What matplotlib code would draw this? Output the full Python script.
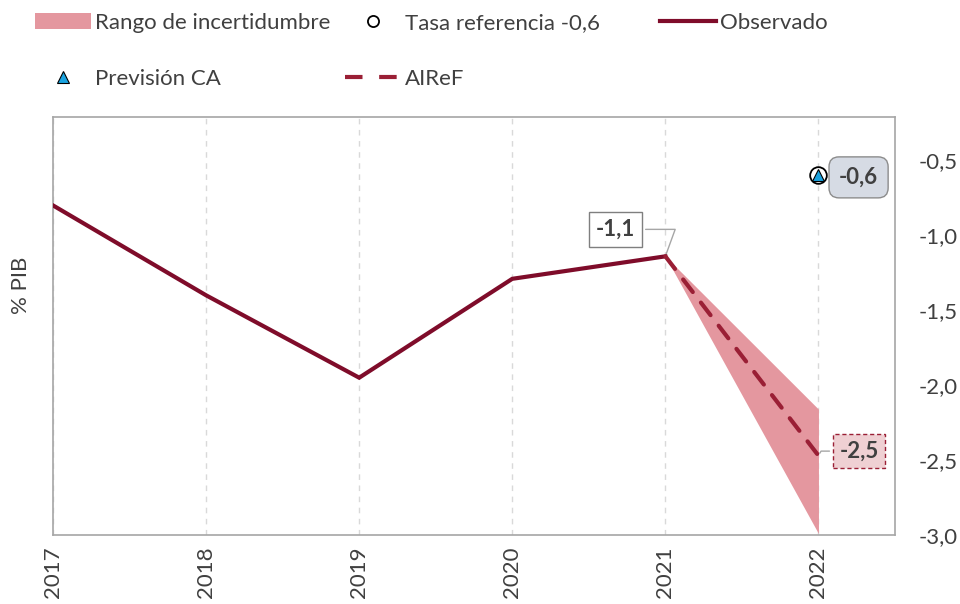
import matplotlib
matplotlib.use("Agg")
import matplotlib.pyplot as plt
from matplotlib.patches import Patch
from matplotlib.lines import Line2D

plt.rcParams['font.family'] = ['Lato', 'DejaVu Sans']

years = [2017, 2018, 2019, 2020, 2021, 2022]
observado_years = [2017, 2018, 2019, 2020, 2021]
observado = [-0.80, -1.40, -1.95, -1.29, -1.14]
airef_years = [2021, 2022]
airef = [-1.14, -2.47]
band_years = [2021, 2022]
band_low = [-1.14, -2.99]
band_high = [-1.14, -2.16]
prevision_ca = -0.6
tasa_ref = -0.6
yticks = [-0.5, -1.0, -1.5, -2.0, -2.5, -3.0]

txt = '#404040'
maroon = '#7f0c2a'
dash_col = '#9a1f35'
pink = '#e4979f'
FS = 16

fig = plt.figure(figsize=(9.6, 6.04), dpi=100)
ax = fig.add_axes([0.0552, 0.1142, 0.8771, 0.6921])

ax.fill_between(band_years, band_low, band_high, color=pink, linewidth=0, zorder=2)
ax.plot(observado_years, observado, color=maroon, lw=3.0, zorder=3, solid_joinstyle='miter')
ax.plot(airef_years, airef, color=dash_col, lw=3.0, dashes=(3.8, 3.2), zorder=4, dash_capstyle='round')
ax.plot([2022], [tasa_ref], 'o', ms=12, mfc='white', mec='black', mew=1.3, zorder=5)
ax.plot([2022], [prevision_ca], '^', ms=8, mfc='#1aa3e0', mec='black', mew=0.8, zorder=6)

ax.set_xlim(2017, 2022.5)
ax.set_ylim(-3.0, -0.21)
ax.set_xticks(years)
ax.set_xticklabels([str(y) for y in years], rotation=90, fontsize=FS, color=txt, va='top')
ax.set_yticks(yticks)
ax.set_yticklabels([f"{v:.1f}".replace('.', ',') for v in yticks], fontsize=FS, color=txt)
ax.yaxis.tick_right()
ax.tick_params(axis='both', length=0, pad=8)
ax.tick_params(axis='y', pad=17)
ax.grid(axis='x', color='#d9d9d9', ls=(0, (4, 4)), lw=1)
ax.set_axisbelow(True)
for s in ax.spines.values():
    s.set_color('#a6a6a6')
    s.set_linewidth(1.2)

fig.text(0.022, 1 - 285/604, '% PIB', rotation=90, ha='center', va='center', fontsize=FS, color=txt)

# annotations
ax.annotate('-1,1', xy=(observado_years[-1], observado[-1]), xytext=(2020.675, -0.96),
            ha='center', va='center', fontsize=FS, fontweight='bold', color=txt,
            bbox=dict(boxstyle='square,pad=0.32', fc='white', ec='#7f7f7f', lw=1),
            arrowprops=dict(arrowstyle='-', color='#a6a6a6', lw=1,
                            connectionstyle='angle,angleA=0,angleB=70,rad=0'))
ax.annotate('-0,6', xy=(2022, prevision_ca), xytext=(2022.262, -0.613),
            ha='center', va='center', fontsize=FS, fontweight='bold', color=txt,
            bbox=dict(boxstyle='round,pad=0.45,rounding_size=0.45', fc='#d6dbe4', ec='#8c8c8c', lw=1))
ax.annotate('-2,5', xy=(2022, airef[-1]), xytext=(2022.265, -2.44),
            ha='center', va='center', fontsize=FS, fontweight='bold', color=txt,
            bbox=dict(boxstyle='square,pad=0.3', fc='#efd0d3', ec=dash_col, lw=1, ls=(0, (3, 2))),
            arrowprops=dict(arrowstyle='-', color='#a6a6a6', lw=1,
                            connectionstyle='angle,angleA=180,angleB=60,rad=0'))

h_band = Patch(facecolor=pink, edgecolor='none')
h_tasa = Line2D([], [], marker='o', ls='none', ms=8, mfc='white', mec='black', mew=1.3)
h_obs = Line2D([], [], color=maroon, lw=3.0)
h_ca = Line2D([], [], marker='^', ls='none', ms=8, mfc='#1aa3e0', mec='black', mew=0.8)
h_airef = Line2D([], [], color=dash_col, lw=3.0, dashes=(4.2, 4.0))

legkw = dict(loc='upper left', frameon=False, fontsize=FS, labelcolor=txt, handlelength=2.5,
             handletextpad=0.2, labelspacing=1.63, borderpad=0, borderaxespad=0)
cols = [([h_band, h_ca], ['Rango de incertidumbre', 'Previsión CA'], 35),
        ([h_tasa, h_airef], ['Tasa referencia -0,6', 'AIReF'], 345),
        ([h_obs], ['Observado'], 660)]
for hs, ls_, xpx in cols:
    lg = fig.legend(hs, ls_, bbox_to_anchor=(xpx / 960, 1 - 13 / 604), **legkw)

fig.savefig('out.png', dpi=100)
